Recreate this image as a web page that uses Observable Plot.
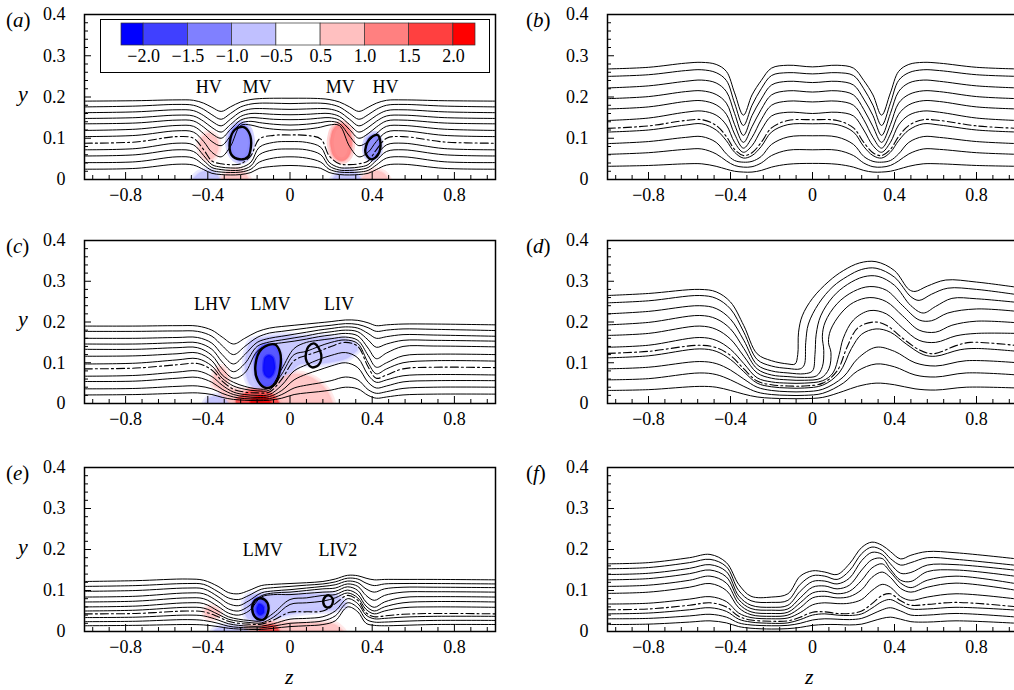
<!DOCTYPE html>
<html><head><meta charset="utf-8">
<script src="https://cdn.jsdelivr.net/npm/d3@7"></script>
<script src="https://cdn.jsdelivr.net/npm/@observablehq/plot@0.6"></script>
<style>
body{margin:0;background:#fff;}
#wrap{position:relative;width:1014px;height:690px;overflow:hidden;font-family:"Liberation Serif","Times New Roman",serif;background:#fff;}
.pl{position:absolute;}
.lab{position:absolute;font-size:21px;line-height:1;color:#000;white-space:nowrap;}
#legend{position:absolute;left:100px;top:19px;width:390px;height:54px;border:1px solid #000;box-sizing:border-box;background:#fff;}
</style></head><body><div id="wrap"><div id="legend"></div></div>
<script>
// ---------- colour bar ----------
const thresholds = [-2, -1.5, -1, -0.5, 0.5, 1, 1.5, 2];
const vortColors = ["#0000ff","#4040ff","#8080ff","#c0c0ff","#ffffff","#ffc0c0","#ff8080","#ff4040","#ff0000"];
const legendBandValues = [-2.25,-1.75,-1.25,-0.75,0,0.75,1.25,1.75,2.25];
// ---------- axes ----------
const xTickLabels = [-0.8,-0.4,0,0.4,0.8];
const yTickLabels = [0,0.1,0.2,0.3,0.4];

// ---------- panel (a) ----------
const zA = [-1,-0.75,-0.55,-0.47,-0.42,-0.38,-0.335,-0.29,-0.24,-0.19,-0.15,-0.08,0,0.08,0.15,0.19,0.24,0.29,0.335,0.38,0.42,0.47,0.55,0.75,1];
const linesA = [
 [0.190,0.191,0.193,0.192,0.185,0.175,0.165,0.176,0.188,0.194,0.196,0.197,0.197,0.197,0.196,0.194,0.188,0.176,0.165,0.175,0.185,0.192,0.193,0.191,0.190],
 [0.176,0.178,0.182,0.180,0.170,0.157,0.146,0.160,0.176,0.183,0.185,0.185,0.184,0.185,0.185,0.183,0.176,0.160,0.146,0.157,0.170,0.180,0.182,0.178,0.176],
 [0.162,0.164,0.169,0.167,0.155,0.141,0.130,0.146,0.164,0.171,0.172,0.171,0.170,0.171,0.172,0.171,0.164,0.146,0.130,0.141,0.155,0.167,0.169,0.164,0.162],
 [0.148,0.150,0.156,0.154,0.141,0.126,0.115,0.133,0.153,0.160,0.160,0.158,0.157,0.158,0.160,0.160,0.153,0.133,0.115,0.126,0.141,0.154,0.156,0.150,0.148],
 [0.135,0.137,0.144,0.142,0.127,0.111,0.100,0.121,0.144,0.150,0.149,0.146,0.145,0.146,0.149,0.150,0.144,0.121,0.100,0.111,0.127,0.142,0.144,0.137,0.135],
 [0.119,0.122,0.131,0.129,0.111,0.092,0.082,0.105,0.136,0.141,0.138,0.134,0.132,0.134,0.138,0.141,0.136,0.105,0.082,0.092,0.111,0.129,0.131,0.122,0.119],
 [0.104,0.107,0.118,0.115,0.092,0.066,0.055,0.080,0.131,0.132,0.127,0.122,0.120,0.122,0.127,0.132,0.131,0.080,0.055,0.066,0.092,0.115,0.118,0.107,0.104],
 [0.072,0.075,0.088,0.084,0.058,0.036,0.030,0.028,0.029,0.042,0.078,0.090,0.092,0.090,0.078,0.042,0.029,0.028,0.030,0.036,0.058,0.084,0.088,0.075,0.072],
 [0.057,0.060,0.072,0.068,0.046,0.029,0.024,0.022,0.023,0.033,0.060,0.072,0.074,0.072,0.060,0.033,0.023,0.022,0.024,0.029,0.046,0.068,0.072,0.060,0.057],
 [0.041,0.043,0.055,0.052,0.035,0.022,0.018,0.017,0.018,0.025,0.042,0.052,0.055,0.052,0.042,0.025,0.018,0.017,0.018,0.022,0.035,0.052,0.055,0.043,0.041],
 [0.025,0.027,0.037,0.035,0.024,0.015,0.012,0.011,0.012,0.017,0.027,0.032,0.034,0.032,0.027,0.017,0.012,0.011,0.012,0.015,0.024,0.035,0.037,0.027,0.025]
];
const dashA = [0.088,0.091,0.104,0.100,0.072,0.045,0.038,0.036,0.038,0.058,0.098,0.107,0.108,0.107,0.098,0.058,0.038,0.036,0.038,0.045,0.072,0.100,0.104,0.091,0.088];
// vorticity patches: w = level, rows of [z, lower y, upper y]
const patchesA = [
 {w:-1.3, rows:[[-0.297,0.086,0.09],[-0.285,0.062,0.115],[-0.265,0.05,0.128],[-0.24,0.044,0.134],[-0.215,0.048,0.13],[-0.197,0.06,0.118],[-0.185,0.085,0.095]]},
 {w:1.3, rows:[[0.198,0.086,0.092],[0.21,0.06,0.118],[0.23,0.048,0.13],[0.255,0.044,0.134],[0.28,0.05,0.128],[0.295,0.062,0.115],[0.303,0.086,0.09]]},
 {w:0.9, rows:[[-0.437,0.075,0.085],[-0.425,0.058,0.1],[-0.4,0.047,0.11],[-0.375,0.05,0.108],[-0.355,0.062,0.098],[-0.347,0.075,0.08]]},
 {w:-1.2, rows:[[0.37,0.07,0.08],[0.38,0.055,0.098],[0.4,0.05,0.106],[0.42,0.053,0.108],[0.435,0.065,0.095],[0.44,0.08,0.085]]},
 {w:-0.8, rows:[[-0.47,0,0],[-0.44,0,0.014],[-0.4,0,0.02],[-0.36,0,0.014],[-0.34,0,0]]},
 {w:0.8, rows:[[-0.33,0,0],[-0.3,0,0.016],[-0.26,0,0.022],[-0.22,0,0.015],[-0.2,0,0]]},
 {w:-0.8, rows:[[0.21,0,0],[0.24,0,0.016],[0.28,0,0.022],[0.32,0,0.015],[0.35,0,0]]},
 {w:0.8, rows:[[0.35,0,0],[0.38,0,0.014],[0.42,0,0.02],[0.46,0,0.013],[0.48,0,0]]}
];
const coresA = [
 [[-0.225,0.127],[-0.196,0.11],[-0.19,0.08],[-0.205,0.055],[-0.245,0.049],[-0.285,0.06],[-0.293,0.09],[-0.27,0.12]],
 [[0.425,0.108],[0.44,0.09],[0.428,0.06],[0.395,0.049],[0.367,0.065],[0.385,0.097]]
];
const labelsA = [{t:"HV",z:-0.395,y:0.223},{t:"MV",z:-0.16,y:0.223},{t:"MV",z:0.245,y:0.223},{t:"HV",z:0.465,y:0.223}];

// ---------- panel (b) ----------
const zB = [-1,-0.8,-0.62,-0.54,-0.47,-0.42,-0.38,-0.337,-0.295,-0.25,-0.2,-0.12,0,0.12,0.2,0.25,0.295,0.337,0.38,0.42,0.47,0.54,0.62,0.8,1];
const linesB = [
 [0.268,0.272,0.282,0.284,0.279,0.262,0.210,0.156,0.205,0.240,0.270,0.277,0.273,0.277,0.270,0.240,0.205,0.156,0.210,0.262,0.279,0.284,0.282,0.272,0.268],
 [0.250,0.254,0.264,0.266,0.259,0.240,0.185,0.131,0.180,0.220,0.252,0.259,0.256,0.259,0.252,0.220,0.180,0.131,0.185,0.240,0.259,0.266,0.264,0.254,0.250],
 [0.222,0.227,0.238,0.241,0.234,0.213,0.160,0.107,0.155,0.195,0.229,0.238,0.235,0.238,0.229,0.195,0.155,0.107,0.160,0.213,0.234,0.241,0.238,0.227,0.222],
 [0.196,0.201,0.213,0.215,0.206,0.185,0.133,0.090,0.128,0.170,0.205,0.215,0.212,0.215,0.205,0.170,0.128,0.090,0.133,0.185,0.206,0.215,0.213,0.201,0.196],
 [0.171,0.176,0.189,0.191,0.181,0.158,0.110,0.076,0.102,0.145,0.180,0.190,0.188,0.190,0.180,0.145,0.102,0.076,0.110,0.158,0.181,0.191,0.189,0.176,0.171],
 [0.143,0.149,0.163,0.166,0.156,0.132,0.090,0.066,0.082,0.120,0.154,0.163,0.160,0.163,0.154,0.120,0.082,0.066,0.090,0.132,0.156,0.166,0.163,0.149,0.143],
 [0.115,0.120,0.132,0.135,0.120,0.094,0.066,0.052,0.058,0.080,0.115,0.133,0.135,0.133,0.115,0.080,0.058,0.052,0.066,0.094,0.120,0.135,0.132,0.120,0.115],
 [0.087,0.092,0.102,0.104,0.090,0.062,0.046,0.042,0.044,0.056,0.085,0.103,0.106,0.103,0.085,0.056,0.044,0.042,0.046,0.062,0.090,0.104,0.102,0.092,0.087],
 [0.061,0.065,0.073,0.074,0.062,0.045,0.034,0.030,0.031,0.040,0.058,0.071,0.072,0.071,0.058,0.040,0.031,0.030,0.034,0.045,0.062,0.074,0.073,0.065,0.061],
 [0.032,0.034,0.038,0.038,0.032,0.025,0.020,0.018,0.018,0.022,0.030,0.037,0.039,0.037,0.030,0.022,0.018,0.018,0.020,0.025,0.032,0.038,0.038,0.034,0.032]
];
const dashB = [0.124,0.130,0.143,0.145,0.131,0.104,0.073,0.058,0.065,0.090,0.125,0.143,0.145,0.143,0.125,0.090,0.065,0.058,0.073,0.104,0.131,0.145,0.143,0.130,0.124];

// ---------- panel (c) ----------
const zC = [-1,-0.75,-0.55,-0.45,-0.38,-0.33,-0.275,-0.22,-0.16,-0.1,-0.04,0.02,0.08,0.14,0.2,0.27,0.33,0.38,0.42,0.47,0.55,0.7,1];
const linesC = [
 [0.190,0.190,0.191,0.190,0.180,0.163,0.146,0.160,0.176,0.185,0.189,0.192,0.195,0.198,0.201,0.205,0.204,0.198,0.191,0.193,0.195,0.195,0.193],
 [0.177,0.177,0.178,0.177,0.165,0.142,0.120,0.140,0.162,0.173,0.177,0.181,0.185,0.189,0.192,0.196,0.194,0.186,0.177,0.180,0.183,0.182,0.179],
 [0.160,0.160,0.162,0.162,0.148,0.120,0.097,0.120,0.150,0.160,0.165,0.170,0.175,0.180,0.184,0.188,0.185,0.172,0.160,0.164,0.169,0.168,0.165],
 [0.146,0.146,0.149,0.149,0.133,0.102,0.078,0.098,0.140,0.151,0.156,0.161,0.166,0.172,0.176,0.180,0.176,0.156,0.138,0.146,0.155,0.155,0.153],
 [0.133,0.133,0.137,0.137,0.118,0.085,0.062,0.075,0.128,0.144,0.149,0.153,0.158,0.164,0.168,0.172,0.166,0.136,0.110,0.124,0.140,0.141,0.139],
 [0.116,0.117,0.122,0.124,0.105,0.070,0.052,0.042,0.036,0.038,0.085,0.135,0.150,0.155,0.159,0.163,0.155,0.118,0.089,0.100,0.117,0.121,0.120],
 [0.097,0.099,0.107,0.110,0.092,0.062,0.043,0.035,0.031,0.033,0.072,0.120,0.128,0.140,0.150,0.156,0.147,0.100,0.073,0.085,0.100,0.105,0.104],
 [0.067,0.069,0.077,0.080,0.066,0.045,0.028,0.022,0.020,0.022,0.045,0.080,0.095,0.108,0.118,0.125,0.112,0.070,0.052,0.058,0.068,0.071,0.070],
 [0.054,0.055,0.062,0.064,0.052,0.035,0.022,0.017,0.015,0.017,0.032,0.058,0.072,0.082,0.092,0.100,0.088,0.052,0.038,0.043,0.053,0.056,0.056],
 [0.036,0.037,0.042,0.043,0.036,0.025,0.016,0.012,0.011,0.012,0.022,0.038,0.045,0.050,0.056,0.065,0.058,0.034,0.025,0.029,0.037,0.040,0.040],
 [0.021,0.022,0.025,0.026,0.022,0.015,0.010,0.008,0.007,0.008,0.013,0.022,0.026,0.029,0.033,0.040,0.036,0.020,0.013,0.016,0.021,0.023,0.023]
];
const dashC = [0.085,0.087,0.095,0.098,0.082,0.055,0.035,0.028,0.026,0.028,0.060,0.105,0.118,0.128,0.140,0.150,0.140,0.090,0.062,0.070,0.085,0.089,0.088];
const patchesC = [
 {w:-0.8, rows:[[-0.215,0.08,0.1],[-0.19,0.045,0.15],[-0.12,0.03,0.16],[-0.05,0.04,0.165],[0.0,0.07,0.165],[0.05,0.095,0.163],[0.12,0.095,0.162],[0.2,0.1,0.16],[0.28,0.11,0.155],[0.33,0.13,0.14]]},
 {w:0.8, rows:[[-0.33,0,0.04],[-0.2,0,0.03],[-0.1,0,0.04],[0.0,0,0.07],[0.1,0,0.064],[0.18,0,0.032],[0.21,0,0]]},
 {w:0.9, rows:[[-0.37,0.045,0.055],[-0.355,0.038,0.08],[-0.33,0.036,0.087],[-0.31,0.045,0.075],[-0.3,0.055,0.06]]},
 {w:-0.8, rows:[[-0.41,0,0],[-0.39,0,0.012],[-0.33,0,0.016],[-0.3,0,0]]},
 {w:-1.7, rows:[[-0.17,0.09,0.1],[-0.16,0.06,0.125],[-0.13,0.042,0.142],[-0.1,0.042,0.145],[-0.07,0.05,0.14],[-0.045,0.075,0.115],[-0.038,0.095,0.1]]},
 {w:-2.3, rows:[[-0.128,0.08,0.085],[-0.12,0.068,0.112],[-0.1,0.062,0.118],[-0.08,0.07,0.112],[-0.07,0.085,0.09]]},
 {w:1.7, rows:[[-0.26,0,0.008],[-0.2,0,0.028],[-0.14,0,0.032],[-0.08,0,0.02],[-0.05,0,0]]},
 {w:2.3, rows:[[-0.19,0,0.006],[-0.16,0,0.016],[-0.12,0,0.016],[-0.09,0,0]]}
];
const coresC = [
 [[-0.075,0.145],[-0.048,0.125],[-0.047,0.09],[-0.07,0.05],[-0.115,0.038],[-0.155,0.055],[-0.168,0.095],[-0.135,0.135]],
 [[0.12,0.147],[0.152,0.12],[0.14,0.095],[0.105,0.089],[0.077,0.11],[0.09,0.14]]
];
const labelsC = [{t:"LHV",z:-0.377,y:0.243},{t:"LMV",z:-0.095,y:0.243},{t:"LIV",z:0.238,y:0.243}];

// ---------- panel (d) ----------
const linesD = [
 [[-1,0.265],[-0.8,0.270],[-0.55,0.280],[-0.47,0.274],[-0.40,0.249],[-0.335,0.191],[-0.27,0.122],[-0.2,0.105],[-0.12,0.097],[-0.085,0.097],[-0.072,0.120],[-0.068,0.175],[-0.05,0.215],[0,0.258],[0.08,0.300],[0.15,0.326],[0.23,0.345],[0.31,0.348],[0.40,0.326],[0.47,0.280],[0.50,0.275],[0.56,0.288],[0.65,0.303],[0.8,0.298],[1,0.285]],
 [[-1,0.247],[-0.8,0.252],[-0.55,0.265],[-0.47,0.258],[-0.40,0.232],[-0.335,0.175],[-0.27,0.108],[-0.2,0.092],[-0.12,0.086],[-0.06,0.085],[-0.04,0.095],[-0.033,0.150],[-0.02,0.195],[0.03,0.245],[0.1,0.287],[0.17,0.312],[0.24,0.329],[0.31,0.332],[0.40,0.310],[0.48,0.262],[0.52,0.253],[0.58,0.268],[0.66,0.283],[0.8,0.280],[1,0.267]],
 [[-1,0.220],[-0.8,0.226],[-0.55,0.240],[-0.47,0.233],[-0.40,0.207],[-0.335,0.155],[-0.27,0.095],[-0.2,0.080],[-0.12,0.075],[-0.04,0.073],[0.0,0.080],[0.012,0.120],[0.018,0.170],[0.04,0.215],[0.1,0.262],[0.17,0.292],[0.25,0.311],[0.32,0.312],[0.40,0.290],[0.48,0.240],[0.54,0.222],[0.6,0.238],[0.68,0.258],[0.8,0.257],[1,0.248]],
 [[-1,0.193],[-0.8,0.199],[-0.55,0.216],[-0.47,0.208],[-0.40,0.183],[-0.335,0.135],[-0.27,0.085],[-0.2,0.070],[-0.12,0.066],[-0.04,0.064],[0.02,0.068],[0.048,0.09],[0.055,0.130],[0.048,0.165],[0.062,0.200],[0.12,0.245],[0.2,0.275],[0.28,0.287],[0.36,0.278],[0.44,0.240],[0.52,0.205],[0.58,0.203],[0.66,0.222],[0.8,0.232],[1,0.226]],
 [[-1,0.167],[-0.8,0.172],[-0.55,0.190],[-0.47,0.182],[-0.40,0.158],[-0.335,0.116],[-0.27,0.075],[-0.2,0.062],[-0.12,0.058],[-0.04,0.057],[0.04,0.062],[0.08,0.085],[0.09,0.125],[0.078,0.150],[0.088,0.180],[0.14,0.222],[0.2,0.248],[0.28,0.260],[0.36,0.250],[0.44,0.215],[0.52,0.180],[0.6,0.175],[0.68,0.192],[0.8,0.202],[1,0.198]],
 [[-1,0.138],[-0.8,0.143],[-0.55,0.162],[-0.47,0.155],[-0.40,0.133],[-0.335,0.098],[-0.27,0.063],[-0.2,0.053],[-0.12,0.050],[-0.04,0.050],[0.05,0.056],[0.1,0.075],[0.13,0.120],[0.15,0.160],[0.2,0.205],[0.28,0.228],[0.36,0.220],[0.44,0.185],[0.52,0.155],[0.6,0.150],[0.7,0.166],[0.8,0.172],[1,0.172]],
 [[-1,0.112],[-0.8,0.117],[-0.55,0.134],[-0.47,0.128],[-0.40,0.108],[-0.335,0.078],[-0.27,0.050],[-0.2,0.041],[-0.12,0.038],[-0.04,0.038],[0.05,0.045],[0.13,0.075],[0.19,0.135],[0.24,0.170],[0.31,0.183],[0.38,0.175],[0.46,0.145],[0.54,0.120],[0.6,0.116],[0.72,0.132],[0.8,0.135],[1,0.128]],
 [[-1,0.085],[-0.8,0.089],[-0.55,0.103],[-0.47,0.098],[-0.40,0.082],[-0.335,0.060],[-0.27,0.040],[-0.2,0.032],[-0.12,0.029],[-0.04,0.029],[0.05,0.035],[0.15,0.065],[0.22,0.110],[0.31,0.138],[0.4,0.128],[0.5,0.100],[0.6,0.092],[0.75,0.105],[1,0.100]],
 [[-1,0.058],[-0.8,0.061],[-0.55,0.075],[-0.47,0.071],[-0.40,0.058],[-0.335,0.042],[-0.27,0.028],[-0.2,0.022],[-0.12,0.020],[-0.04,0.020],[0.05,0.025],[0.15,0.050],[0.22,0.080],[0.31,0.097],[0.4,0.090],[0.5,0.070],[0.6,0.065],[0.75,0.075],[1,0.070]],
 [[-1,0.032],[-0.8,0.034],[-0.55,0.042],[-0.47,0.040],[-0.40,0.032],[-0.335,0.023],[-0.27,0.016],[-0.2,0.013],[-0.12,0.012],[-0.04,0.012],[0.05,0.015],[0.15,0.030],[0.22,0.042],[0.31,0.050],[0.4,0.046],[0.5,0.036],[0.6,0.033],[0.75,0.040],[1,0.038]]
];
const dashD = [[-1,0.123],[-0.8,0.128],[-0.55,0.143],[-0.47,0.137],[-0.40,0.118],[-0.335,0.085],[-0.27,0.055],[-0.2,0.046],[-0.12,0.043],[-0.04,0.043],[0.05,0.050],[0.12,0.080],[0.17,0.140],[0.22,0.185],[0.3,0.200],[0.36,0.192],[0.44,0.160],[0.52,0.132],[0.59,0.122],[0.7,0.142],[0.77,0.150],[1,0.142]];

// ---------- panel (e) ----------
const zE = [-1,-0.75,-0.5,-0.42,-0.35,-0.3,-0.25,-0.2,-0.14,-0.08,0,0.08,0.16,0.22,0.28,0.33,0.37,0.41,0.46,0.55,0.7,1];
const linesE = [
 [0.122,0.124,0.128,0.125,0.110,0.095,0.092,0.100,0.112,0.115,0.117,0.119,0.122,0.128,0.137,0.136,0.130,0.126,0.127,0.127,0.127,0.126],
 [0.110,0.112,0.117,0.115,0.097,0.082,0.078,0.088,0.103,0.107,0.110,0.113,0.116,0.121,0.130,0.128,0.118,0.112,0.116,0.117,0.117,0.116],
 [0.098,0.100,0.106,0.104,0.085,0.068,0.063,0.075,0.094,0.099,0.102,0.106,0.110,0.114,0.123,0.119,0.104,0.096,0.104,0.108,0.108,0.107],
 [0.084,0.086,0.094,0.092,0.073,0.055,0.050,0.062,0.087,0.094,0.096,0.100,0.104,0.106,0.116,0.110,0.088,0.076,0.088,0.096,0.097,0.096],
 [0.072,0.074,0.082,0.080,0.061,0.045,0.040,0.050,0.084,0.090,0.090,0.093,0.096,0.098,0.109,0.100,0.072,0.059,0.072,0.083,0.085,0.084],
 [0.060,0.062,0.070,0.068,0.050,0.036,0.030,0.027,0.026,0.045,0.078,0.082,0.088,0.090,0.101,0.090,0.062,0.050,0.060,0.070,0.073,0.072],
 [0.050,0.052,0.059,0.057,0.042,0.030,0.025,0.022,0.021,0.035,0.066,0.070,0.074,0.082,0.094,0.082,0.054,0.043,0.050,0.058,0.060,0.059],
 [0.034,0.035,0.040,0.038,0.028,0.019,0.015,0.013,0.013,0.019,0.030,0.032,0.036,0.050,0.080,0.068,0.040,0.031,0.032,0.035,0.037,0.037],
 [0.024,0.025,0.029,0.027,0.020,0.013,0.010,0.009,0.009,0.013,0.020,0.022,0.026,0.038,0.070,0.058,0.030,0.023,0.023,0.025,0.027,0.027],
 [0.014,0.015,0.017,0.016,0.012,0.008,0.006,0.005,0.005,0.008,0.012,0.014,0.017,0.026,0.060,0.048,0.020,0.015,0.014,0.015,0.017,0.017]
];
const dashE = [0.043,0.044,0.050,0.048,0.036,0.025,0.020,0.018,0.018,0.028,0.047,0.048,0.050,0.068,0.088,0.076,0.046,0.036,0.038,0.042,0.044,0.043];
const patchesE = [
 {w:-0.8, rows:[[-0.22,0.05,0.07],[-0.2,0.03,0.085],[-0.1,0.03,0.09],[-0.05,0.035,0.09],[0.05,0.045,0.09],[0.15,0.05,0.09],[0.22,0.052,0.088],[0.27,0.06,0.07]]},
 {w:0.8, rows:[[-0.26,0,0],[-0.2,0,0.012],[-0.1,0,0.02],[0.1,0,0.019],[0.22,0,0.016],[0.26,0,0]]},
 {w:0.8, rows:[[-0.41,0.04,0.05],[-0.39,0.032,0.058],[-0.36,0.033,0.056],[-0.34,0.04,0.045]]},
 {w:-0.7, rows:[[-0.37,0,0],[-0.34,0,0.009],[-0.24,0,0.01],[-0.2,0,0]]},
 {w:-1.7, rows:[[-0.186,0.055,0.062],[-0.17,0.035,0.078],[-0.145,0.03,0.082],[-0.12,0.035,0.076],[-0.108,0.05,0.06]]},
 {w:-2.2, rows:[[-0.16,0.048,0.055],[-0.15,0.04,0.066],[-0.135,0.04,0.064],[-0.124,0.045,0.058]]},
 {w:1.7, rows:[[-0.15,0,0],[-0.13,0,0.012],[-0.07,0,0.013],[-0.05,0,0]]}
];
const coresE = [
 [[-0.14,0.081],[-0.11,0.07],[-0.108,0.045],[-0.13,0.029],[-0.165,0.033],[-0.184,0.055],[-0.17,0.076]],
 [[0.19,0.088],[0.209,0.078],[0.2,0.062],[0.178,0.059],[0.162,0.07],[0.172,0.085]]
];
const labelsE = [{t:"LMV",z:-0.133,y:0.198},{t:"LIV2",z:0.233,y:0.198}];

// ---------- panel (f) ----------
const zF = [-1,-0.8,-0.6,-0.5,-0.42,-0.36,-0.3,-0.2,-0.12,-0.06,0,0.06,0.12,0.18,0.24,0.29,0.34,0.38,0.43,0.48,0.56,0.7,1];
const linesF = [
 [0.165,0.168,0.180,0.188,0.168,0.115,0.086,0.084,0.092,0.135,0.148,0.145,0.139,0.165,0.205,0.218,0.210,0.195,0.177,0.186,0.195,0.192,0.177],
 [0.153,0.156,0.168,0.176,0.158,0.100,0.075,0.071,0.076,0.115,0.136,0.135,0.127,0.148,0.190,0.206,0.198,0.178,0.162,0.168,0.180,0.176,0.161],
 [0.139,0.142,0.154,0.163,0.146,0.087,0.064,0.059,0.064,0.098,0.122,0.123,0.116,0.130,0.173,0.193,0.188,0.165,0.142,0.144,0.162,0.163,0.149],
 [0.126,0.129,0.141,0.150,0.133,0.078,0.056,0.052,0.055,0.082,0.108,0.111,0.104,0.113,0.150,0.175,0.178,0.152,0.125,0.122,0.146,0.150,0.134],
 [0.110,0.113,0.125,0.135,0.118,0.068,0.048,0.044,0.047,0.070,0.094,0.098,0.092,0.098,0.125,0.155,0.165,0.145,0.118,0.107,0.125,0.135,0.116],
 [0.093,0.096,0.108,0.117,0.100,0.058,0.041,0.037,0.040,0.058,0.082,0.086,0.082,0.085,0.102,0.132,0.145,0.132,0.105,0.096,0.108,0.118,0.100],
 [0.067,0.069,0.079,0.085,0.073,0.045,0.034,0.031,0.033,0.046,0.065,0.070,0.068,0.069,0.078,0.100,0.115,0.108,0.085,0.076,0.084,0.092,0.079],
 [0.043,0.045,0.053,0.058,0.049,0.030,0.023,0.020,0.021,0.029,0.040,0.043,0.040,0.039,0.043,0.057,0.073,0.078,0.066,0.055,0.055,0.059,0.052],
 [0.031,0.032,0.038,0.042,0.035,0.021,0.016,0.014,0.015,0.020,0.028,0.031,0.030,0.029,0.032,0.042,0.053,0.058,0.050,0.040,0.040,0.044,0.035],
 [0.017,0.018,0.023,0.026,0.021,0.012,0.008,0.006,0.007,0.010,0.015,0.017,0.017,0.016,0.018,0.025,0.032,0.035,0.030,0.024,0.023,0.026,0.020]
];
const dashF = [0.053,0.055,0.064,0.070,0.060,0.037,0.028,0.025,0.026,0.035,0.047,0.048,0.044,0.044,0.050,0.068,0.088,0.092,0.075,0.064,0.066,0.071,0.060];

// ---------- helpers ----------
const gridRows = (zs, lines) => lines.flatMap((ys, k) => ys.map((y, i) => ({k, z: zs[i], y})));
const pairRows = (lines) => lines.flatMap((pts, k) => pts.map(([z, y]) => ({k, z, y})));
const patchRows = (patches) => patches.flatMap((p, k) => p.rows.map(([z, lo, hi]) => ({k, w: p.w, z, lo, hi})));
const fmt = d => d === 0 ? "0" : d3.format(".1f")(d);

const xAll = d3.range(-12, 13).map(i => i * 0.08);
const xMajor = xAll.filter((d, i) => (i - 12) % 5 === 0);
const xMinor = xAll.filter((d, i) => (i - 12) % 5 !== 0);
const yAll = d3.range(1, 20).map(i => i * 0.02);
const yMajor = yAll.filter((d, i) => (i + 1) % 5 === 0);
const yMinor = yAll.filter((d, i) => (i + 1) % 5 !== 0);
const colorScale = {type: "threshold", domain: thresholds, range: vortColors};

function panel(o) {
  const W = o.width, H = o.height, mr = o.mr, mb = o.mb;
  const frameW = W - 84 - mr, frameH = H - 14 - mb;
  const marks = [];
  if (o.patches) {
    // soft halo, then the patch itself
    marks.push(Plot.areaY(o.patches, {x: "z", y1: "lo", y2: "hi", z: "k", fill: "w", fillOpacity: 0.35, stroke: "w", strokeOpacity: 0.35, strokeWidth: 7, strokeLinejoin: "round", curve: "catmull-rom", clip: true}));
    marks.push(Plot.areaY(o.patches, {x: "z", y1: "lo", y2: "hi", z: "k", fill: "w", fillOpacity: 0.8, stroke: "w", strokeOpacity: 0.4, strokeWidth: 2.5, strokeLinejoin: "round", curve: "catmull-rom", clip: true}));
  }
  marks.push(Plot.line(o.solid, {x: "z", y: "y", z: "k", stroke: "#000", strokeWidth: 1, curve: "catmull-rom", clip: true}));
  marks.push(Plot.line(o.dash, {x: "z", y: "y", stroke: "#000", strokeWidth: 1.1, strokeDasharray: "8,3,2,3", curve: "catmull-rom", clip: true}));
  if (o.cores) marks.push(Plot.line(o.cores, {x: "z", y: "y", z: "k", stroke: "#000", strokeWidth: 2.4, curve: "catmull-rom-closed"}));
  if (o.labels) marks.push(Plot.text(o.labels, {x: "z", y: "y", text: "t", fontSize: 18}));
  marks.push(
    Plot.tickX(xMinor, {x: d => d, stroke: "#000", insetTop: frameH - 4}),
    Plot.tickX(xMajor, {x: d => d, stroke: "#000", insetTop: frameH - 7}),
    Plot.tickY(yMinor, {y: d => d, stroke: "#000", insetRight: frameW - 4}),
    Plot.tickY(yMajor, {y: d => d, stroke: "#000", insetRight: frameW - 7}),
    Plot.axisX({ticks: xTickLabels, tickSize: 0, tickPadding: 9, tickFormat: fmt, label: null}),
    Plot.axisY({ticks: yTickLabels, tickSize: 0, tickPadding: 19, tickFormat: fmt, label: null}),
    Plot.frame({stroke: "#000", strokeWidth: 1.5})
  );
  const svg = Plot.plot({
    width: W, height: H, marginLeft: 84, marginRight: mr, marginTop: 14, marginBottom: mb,
    x: {domain: [-1, 1]}, y: {domain: [0, 0.4]}, color: colorScale,
    style: {fontFamily: "'Liberation Serif', 'Times New Roman', serif", fontSize: "18px", color: "#000", background: "transparent", overflow: "visible"},
    marks
  });
  const div = document.createElement("div");
  div.className = "pl";
  div.style.left = o.left + "px"; div.style.top = o.top + "px"; div.style.width = W + "px";
  div.appendChild(svg);
  document.getElementById("wrap").appendChild(div);
}

const C1 = {left: 0, width: 507, mr: 12};
const C2 = {left: 523, width: 494, mr: 0};
panel({...C1, top: 0, height: 219, mb: 40, solid: gridRows(zA, linesA), dash: gridRows(zA, [dashA]), patches: patchRows(patchesA), cores: pairRows(coresA), labels: labelsA});
panel({...C2, top: 0, height: 219, mb: 40, solid: gridRows(zB, linesB), dash: gridRows(zB, [dashB])});
panel({...C1, top: 226, height: 217, mb: 40, solid: gridRows(zC, linesC), dash: gridRows(zC, [dashC]), patches: patchRows(patchesC), cores: pairRows(coresC), labels: labelsC});
panel({...C2, top: 226, height: 217, mb: 40, solid: pairRows(linesD), dash: pairRows([dashD])});
panel({...C1, top: 453, height: 218, mb: 40, solid: gridRows(zE, linesE), dash: gridRows(zE, [dashE]), patches: patchRows(patchesE), cores: pairRows(coresE), labels: labelsE});
panel({...C2, top: 453, height: 218, mb: 40, solid: gridRows(zF, linesF), dash: gridRows(zF, [dashF])});

// ---------- legend (colour bar) ----------
const legendSegs = legendBandValues.map((v, i) => ({v, x1: Math.max(i, 0.5), x2: Math.min(i + 1, 8.5)}));
const legendSvg = Plot.plot({
  width: 388, height: 52, marginLeft: 20, marginRight: 14, marginTop: 3, marginBottom: 27,
  x: {domain: [0.5, 8.5], axis: null}, y: {domain: [0, 1], axis: null}, color: colorScale,
  style: {fontFamily: "'Liberation Serif', 'Times New Roman', serif", fontSize: "18px", color: "#000", background: "transparent"},
  marks: [
    Plot.rect(legendSegs, {x1: "x1", x2: "x2", y1: 0, y2: 1, fill: "v", stroke: "#333", strokeWidth: 0.7}),
    Plot.text(thresholds, {x: (d, i) => i + 1, frameAnchor: "bottom", dy: 16, text: d => fmt(d), fontSize: 18})
  ]
});
document.getElementById("legend").appendChild(legendSvg);

// ---------- panel letters and axis names ----------
const letters = [["a",6,10],["b",526,10],["c",6,236],["d",526,236],["e",6,463],["f",526,463]];
const wrap = document.getElementById("wrap");
for (const [t, x, y] of letters) {
  const s = document.createElement("span");
  s.className = "lab"; s.style.left = x + "px"; s.style.top = y + "px";
  s.innerHTML = "(<i>" + t + "</i>)";
  wrap.appendChild(s);
}
const axisNames = [["y",18,83],["y",18,308],["y",18,536],["z",285,666],["z",805,666]];
for (const [t, x, y] of axisNames) {
  const s = document.createElement("span");
  s.className = "lab"; s.style.left = x + "px"; s.style.top = y + "px"; s.style.fontSize = "22px";
  s.innerHTML = "<i>" + t + "</i>";
  wrap.appendChild(s);
}
</script></body></html>
